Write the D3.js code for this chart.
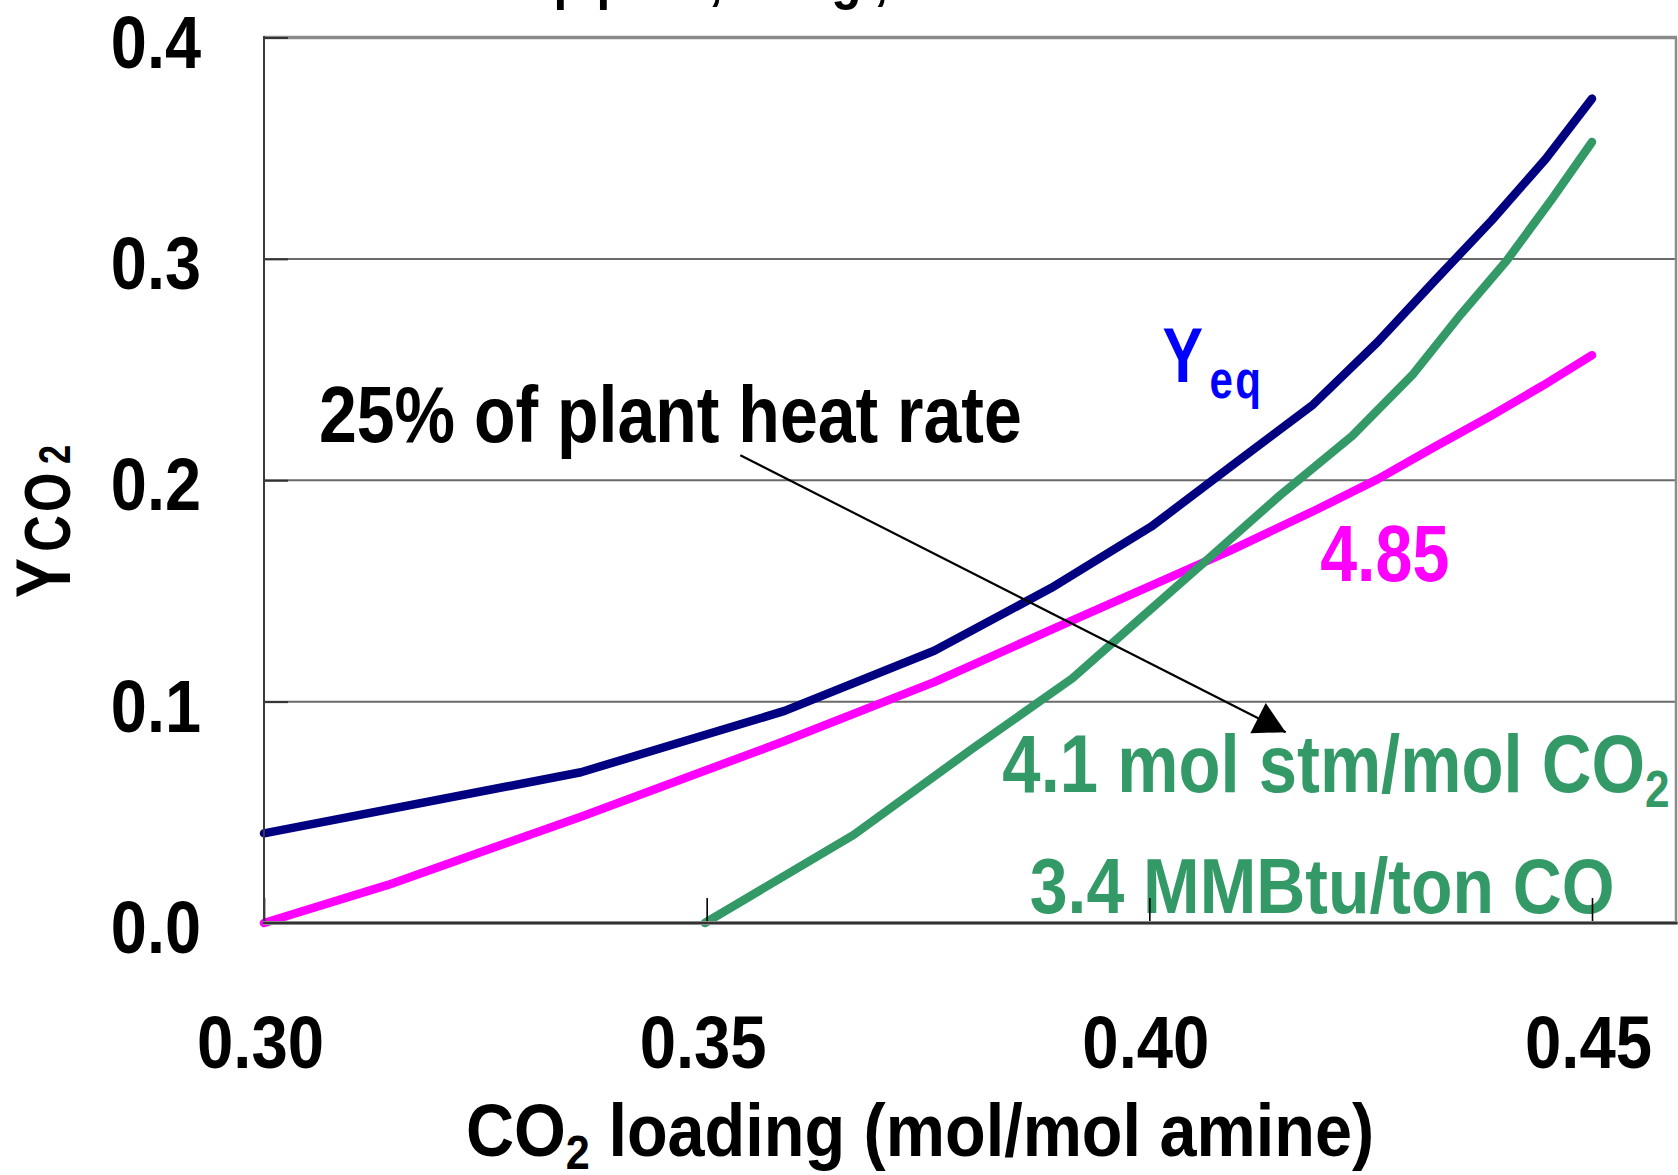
<!DOCTYPE html>
<html>
<head>
<meta charset="utf-8">
<script src="https://cdn.jsdelivr.net/npm/d3@7"></script>
<style>
  html, body { margin: 0; padding: 0; background: #ffffff; }
  svg { display: block; }
  text { font-family: "Liberation Sans", Arial, Helvetica, sans-serif; font-weight: bold; }
</style>
</head>
<body>
<script>
// ---- data -------------------------------------------------------------
// Equilibrium CO2 mole fraction vs. CO2 loading
const yeqLoading = [0.300, 0.3358, 0.3588, 0.3757, 0.3889, 0.4002, 0.4094, 0.4185, 0.4258, 0.4322, 0.4387, 0.4448, 0.4500];
const yeqValues  = [0.0405, 0.0681, 0.0958, 0.1230, 0.1513, 0.1790, 0.2068, 0.2342, 0.2625, 0.2900, 0.3175, 0.3453, 0.3724];

// Operating line, 4.85 mol steam / mol CO2
const op485Loading = [0.300, 0.3140, 0.3358, 0.3588, 0.3757, 0.3892, 0.4004, 0.4090, 0.4185, 0.4258, 0.4322, 0.4387, 0.4445, 0.4500];
const op485Values  = [0.000, 0.0172, 0.0480, 0.0822, 0.1088, 0.1330, 0.1527, 0.1680, 0.1860, 0.2005, 0.2150, 0.2294, 0.2429, 0.2565];

// Operating line, 4.1 mol steam / mol CO2
const op41Loading = [0.3498, 0.3666, 0.3801, 0.3913, 0.3991, 0.4069, 0.4147, 0.4229, 0.4297, 0.4352, 0.4404, 0.4455, 0.4500];
const op41Values  = [0.000, 0.0398, 0.0790, 0.1105, 0.1380, 0.1654, 0.1930, 0.2200, 0.2475, 0.2750, 0.2994, 0.3272, 0.3528];

const xTicks = [0.30, 0.35, 0.40, 0.45];
const xTickLabels = ["0.30", "0.35", "0.40", "0.45"];
const yTicks = [0.0, 0.1, 0.2, 0.3, 0.4];
const yTickLabels = ["0.0", "0.1", "0.2", "0.3", "0.4"];

// ---- layout -----------------------------------------------------------
const W = 1678, H = 1175;
const x = d3.scaleLinear().domain([0.30, 0.45]).range([264, 1592]);
const y = d3.scaleLinear().domain([0, 0.4]).range([923, 37.5]);
const plotLeft = x(0.30), plotRight = 1676, plotTop = y(0.4), plotBottom = y(0);

const svg = d3.select("body").append("svg")
  .attr("width", W).attr("height", H)
  .attr("viewBox", `0 0 ${W} ${H}`);

svg.append("rect").attr("width", W).attr("height", H).attr("fill", "#ffffff");

// Condensed bold text: translate to the anchor, squeeze horizontally.
function label(px, py, sx, opts) {
  const t = svg.append("text")
    .attr("transform", `translate(${px},${py}) scale(${sx},1)`)
    .attr("text-anchor", opts.anchor || "start")
    .attr("font-size", opts.size)
    .attr("fill", opts.fill || "#000000");
  if (opts.spacing) t.attr("letter-spacing", opts.spacing);
  if (opts.parts) {
    opts.parts.forEach(p => {
      const ts = t.append("tspan").text(p.text);
      if (p.size) ts.attr("font-size", p.size);
      if (p.dx) ts.attr("dx", p.dx);
      if (p.dy) ts.attr("dy", p.dy);
      if (p.spacing) ts.attr("letter-spacing", p.spacing);
    });
  } else {
    t.text(opts.text);
  }
  return t;
}

// Title line above the plot (runs off the top edge)
label(420, -2, 0.87, { size: 57, spacing: 14.6, text: "Stripper, ldg, 1 atm" });

// ---- grid and frame ---------------------------------------------------
svg.append("g").selectAll("line")
  .data(yTicks.filter(v => v > 0 && v < 0.4))
  .join("line")
  .attr("x1", plotLeft).attr("x2", plotRight)
  .attr("y1", d => y(d)).attr("y2", d => y(d))
  .attr("stroke", "#6a6a6a").attr("stroke-width", 2);

// top and right border
svg.append("line")
  .attr("x1", plotLeft).attr("x2", plotRight + 1)
  .attr("y1", plotTop).attr("y2", plotTop)
  .attr("stroke", "#8a8a8a").attr("stroke-width", 3.5);
svg.append("line")
  .attr("x1", plotRight).attr("x2", plotRight)
  .attr("y1", plotTop).attr("y2", plotBottom)
  .attr("stroke", "#8a8a8a").attr("stroke-width", 2.5);

// ---- series -----------------------------------------------------------
const line = d3.line().x(d => x(d[0])).y(d => y(d[1]));
const series = [
  { lx: yeqLoading, ly: yeqValues, color: "#000080" },
  { lx: op485Loading, ly: op485Values, color: "#ff00ff" },
  { lx: op41Loading, ly: op41Values, color: "#339966" }
];
svg.append("g").selectAll("path")
  .data(series)
  .join("path")
  .attr("d", s => line(s.lx.map((v, i) => [v, s.ly[i]])))
  .attr("fill", "none")
  .attr("stroke", s => s.color)
  .attr("stroke-width", 8.5)
  .attr("stroke-linecap", "round")
  .attr("stroke-linejoin", "round");

// ---- annotations ------------------------------------------------------
label(x(0.4015), y(0.2443), 0.78, {
  size: 78, fill: "#0000ff",
  parts: [{ text: "Y" }, { text: "eq", size: 54, dx: 8, dy: 16, spacing: 3 }]
});

label(x(0.3062), y(0.2174), 0.861, { size: 79, text: "25% of plant heat rate" });

label(x(0.4193), y(0.1544), 0.84, { size: 79, fill: "#ff00ff", text: "4.85" });

label(x(0.3834), y(0.0592), 0.85, {
  size: 81, fill: "#339966",
  parts: [{ text: "4.1 mol stm/mol CO" }, { text: "2", size: 52, dy: 15 }]
});

label(x(0.3865), y(0.0045), 0.871, { size: 78, fill: "#339966", text: "3.4 MMBtu/ton CO" });

// arrow pointing from the heat-rate note to the 4.1 line
const defs = svg.append("defs");
defs.append("marker")
  .attr("id", "arrowhead")
  .attr("markerUnits", "userSpaceOnUse")
  .attr("viewBox", "-34 -20 36 40")
  .attr("markerWidth", 36).attr("markerHeight", 40)
  .attr("refX", 0).attr("refY", 0)
  .attr("orient", "auto")
  .append("path")
  .attr("d", "M0,0L-31,-17L-31,17Z")
  .attr("fill", "#000000");

svg.append("line")
  .attr("x1", x(0.3538)).attr("y1", y(0.2113))
  .attr("x2", x(0.4154)).attr("y2", y(0.0862))
  .attr("stroke", "#000000").attr("stroke-width", 2.2)
  .attr("marker-end", "url(#arrowhead)");

// ---- axes -------------------------------------------------------------
// x ticks point up into the plot
svg.append("g")
  .attr("transform", `translate(0,${plotBottom})`)
  .call(d3.axisBottom(x).tickValues(xTicks).tickSize(-25).tickFormat(""))
  .call(g => g.select(".domain").remove())
  .call(g => g.selectAll(".tick line").attr("stroke", "#000000").attr("stroke-width", 1.6));

// y ticks point right into the plot
svg.append("g")
  .attr("transform", `translate(${plotLeft},0)`)
  .call(d3.axisLeft(y).tickValues(yTicks).tickSize(-24).tickFormat(""))
  .call(g => g.select(".domain").remove())
  .call(g => g.selectAll(".tick line").attr("stroke", "#333333").attr("stroke-width", 2));

// axis lines
svg.append("line")
  .attr("x1", plotLeft).attr("x2", plotLeft)
  .attr("y1", plotTop - 1.5).attr("y2", plotBottom)
  .attr("stroke", "#3a3a3a").attr("stroke-width", 2);
svg.append("line")
  .attr("x1", plotLeft - 1).attr("x2", plotRight + 1.5)
  .attr("y1", plotBottom).attr("y2", plotBottom)
  .attr("stroke", "#8a8a8a").attr("stroke-width", 4);
svg.append("line")
  .attr("x1", plotLeft - 1).attr("x2", plotRight + 1.5)
  .attr("y1", plotBottom).attr("y2", plotBottom)
  .attr("stroke", "#333333").attr("stroke-width", 2);

// tick labels
xTicks.forEach((v, i) => {
  label(x(v) - 3.5, plotBottom + 145, 0.87, { size: 75, anchor: "middle", text: xTickLabels[i] });
});
yTicks.forEach((v, i) => {
  label(201, y(v) + 30, 0.865, { size: 75, anchor: "end", text: yTickLabels[i] });
});

// axis titles
label(466, 1156, 0.9, {
  size: 74,
  parts: [
    { text: "CO" },
    { text: "2", size: 48, dy: 13 },
    { text: " loading (mol/mol amine)", dy: -13 }
  ]
});

svg.append("text")
  .attr("transform", "translate(70,598) rotate(-90) scale(0.78,1)")
  .attr("font-size", 77)
  .attr("fill", "#000000")
  .call(t => {
    t.append("tspan").text("Y");
    t.append("tspan").text("C").attr("font-size", 65).attr("dx", 8);
    t.append("tspan").text("O").attr("font-size", 65).attr("dx", 4);
    t.append("tspan").text("2").attr("font-size", 44).attr("dx", 11);
  });
</script>
</body>
</html>
